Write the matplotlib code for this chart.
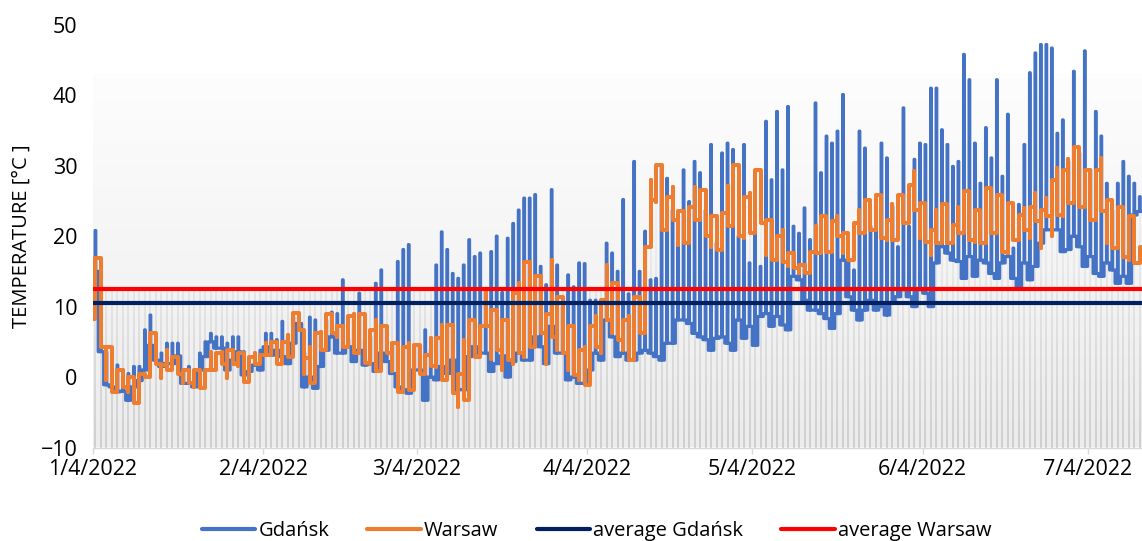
import numpy as np
import matplotlib
matplotlib.use("Agg")
import matplotlib.pyplot as plt
import matplotlib.dates as mdates
from matplotlib.collections import LineCollection
from matplotlib.lines import Line2D
from matplotlib.ticker import FuncFormatter, FixedLocator

# ---------------- data ----------------
start_date = "2022-01-04"
month_ticks = ["2022-01-04", "2022-02-04", "2022-03-04", "2022-04-04",
               "2022-05-04", "2022-06-04", "2022-07-04"]
y_ticks = [-10, 0, 10, 20, 30, 40, 50]
legend_labels = ["Gdańsk", "Warsaw", "average Gdańsk", "average Warsaw"]

gdansk_hi = [
    20.8, 14.3, 3.6, 1.7, 1.7, 1.0, 0.5, 1.5, 1.5, 6.7,
    8.8, 4.5, 3.4, 4.8, 4.8, 4.8, 1.0, 1.5, 1.0, 3.4,
    5.0, 6.2, 5.7, 5.7, 4.8, 5.7, 5.7, 3.6, 1.7, 3.1,
    3.8, 6.2, 6.2, 5.3, 7.9, 5.7, 8.5, 8.5, 3.4, 8.5,
    8.1, 5.7, 8.1, 9.2, 9.0, 13.8, 5.3, 8.1, 11.9, 5.3,
    5.7, 13.3, 15.2, 7.2, 4.8, 16.4, 18.1, 18.8, 4.3, 4.3,
    6.7, 3.8, 15.9, 20.6, 18.1, 14.7, 14.0, 15.9, 19.5, 17.1,
    17.6, 12.4, 17.8, 20.0, 12.0, 19.7, 21.8, 23.7, 25.4, 25.4,
    25.9, 15.7, 13.1, 26.6, 15.9, 10.0, 14.5, 12.8, 16.2, 16.1,
    10.9, 10.9, 10.0, 19.0, 17.6, 15.0, 25.2, 11.8, 30.6, 15.0,
    20.7, 13.8, 14.0, 29.9, 28.2, 23.7, 22.6, 29.4, 24.9, 30.6,
    29.0, 23.7, 33.0, 19.0, 31.8, 33.2, 32.3, 20.0, 33.0, 16.2,
    20.4, 15.7, 36.3, 28.0, 37.7, 29.4, 38.4, 21.4, 20.4, 24.0,
    19.5, 38.9, 29.0, 34.2, 33.2, 34.9, 40.1, 16.6, 15.2, 34.9,
    32.5, 21.4, 21.1, 33.2, 31.1, 24.2, 18.5, 38.2, 21.4, 30.9,
    33.2, 33.0, 41.0, 41.0, 35.1, 33.0, 29.9, 30.6, 45.8, 42.2,
    33.2, 27.5, 35.4, 31.1, 42.2, 28.5, 37.3, 18.3, 24.5, 33.0,
    43.2, 46.0, 47.2, 47.2, 46.7, 34.6, 36.5, 30.6, 43.4, 31.8,
    46.3, 29.4, 37.7, 34.2, 27.5, 23.7, 27.5, 30.6, 28.5, 27.5,
    25.6]

gdansk_lo = [
    15.0, 3.6, -1.1, -1.4, -2.1, -2.0, -3.3, -1.4, -0.5, 1.0,
    4.5, 2.4, 1.5, 1.9, 1.9, 3.0, -0.9, -0.9, -1.4, 1.0,
    2.9, 5.0, 4.1, 4.1, 1.0, 2.4, 3.6, 0.3, 0.8, 1.7,
    1.0, 4.3, 3.1, 3.8, 2.9, 1.9, 4.8, 7.6, -1.4, 0.0,
    -1.6, 1.5, 3.8, 5.7, 3.4, 3.4, 4.3, 2.2, 3.8, 1.7,
    1.9, 0.8, 3.4, 2.2, 0.5, -1.4, -1.8, -2.3, 1.0, 1.0,
    -3.3, 0.0, -0.4, 1.5, 0.5, 2.4, -1.8, -1.8, 2.9, 4.3,
    3.4, 3.4, 0.8, 1.9, 3.0, 0.0, 2.2, 3.4, 2.4, 2.4,
    5.7, 4.3, 1.9, 7.2, 3.4, 3.4, -0.4, 0.0, -0.9, -0.9,
    1.0, 3.4, 2.4, 8.1, 5.7, 2.9, 3.4, 2.4, 2.4, 3.4,
    3.8, 3.4, 2.9, 2.4, 4.8, 4.8, 8.1, 8.1, 7.6, 6.2,
    5.7, 5.3, 3.8, 5.5, 5.7, 4.8, 3.8, 8.1, 5.5, 7.2,
    4.5, 8.6, 9.0, 7.2, 8.6, 7.4, 6.7, 14.3, 13.8, 10.9,
    9.5, 9.5, 9.0, 8.3, 6.9, 9.0, 16.6, 11.4, 9.5, 8.1,
    9.5, 10.9, 9.5, 10.0, 8.8, 10.5, 11.4, 12.4, 11.4, 10.0,
    12.4, 11.9, 10.0, 16.2, 18.5, 17.6, 16.6, 16.4, 14.0, 17.1,
    14.3, 16.6, 16.2, 14.7, 14.0, 16.2, 17.1, 14.0, 12.8, 16.2,
    13.8, 15.7, 19.0, 20.9, 20.9, 20.9, 17.8, 18.1, 20.0, 18.5,
    15.7, 17.1, 14.7, 14.3, 16.2, 15.2, 13.3, 14.3, 13.3, 23.0,
    23.5]

warsaw_hi = [
    16.9, 8.3, 4.3, -0.4, 1.0, 0.5, 0.0, -1.4, 0.5, 0.5,
    6.2, 3.6, 1.7, 3.8, 2.9, 2.9, 1.0, 1.0, 1.0, 0.8,
    1.0, 3.6, 3.4, 3.6, 3.8, 2.9, 3.4, 1.0, 2.9, 3.4,
    3.1, 4.8, 5.0, 4.8, 5.0, 6.0, 9.1, 8.1, 2.7, 4.3,
    6.2, 6.4, 9.0, 9.0, 7.2, 7.2, 8.6, 9.0, 9.0, 6.7,
    6.7, 8.1, 7.2, 7.2, 4.8, 3.8, 4.3, 4.8, 4.5, 4.5,
    3.1, 5.5, 5.5, 7.4, 7.4, 1.2, 0.5, 5.3, 8.1, 8.1,
    7.2, 12.4, 9.5, 5.3, 8.1, 6.2, 11.9, 13.3, 16.4, 10.0,
    14.3, 10.0, 9.0, 16.6, 11.4, 9.7, 7.2, 4.3, 3.8, 4.3,
    7.2, 8.6, 10.9, 15.9, 13.3, 10.0, 8.1, 8.6, 11.4, 10.0,
    18.5, 28.0, 30.1, 27.0, 25.6, 27.0, 23.5, 23.3, 24.2, 27.0,
    26.6, 23.7, 22.8, 22.8, 23.3, 27.1, 30.1, 25.6, 25.6, 26.1,
    29.4, 27.8, 22.3, 20.9, 20.0, 20.9, 17.6, 16.2, 15.9, 15.9,
    17.8, 21.4, 22.8, 21.4, 22.1, 22.8, 20.4, 19.7, 21.8, 23.7,
    25.2, 25.2, 25.9, 21.4, 22.3, 24.5, 25.9, 25.2, 27.3, 29.2,
    24.7, 24.7, 20.9, 23.7, 24.5, 23.0, 21.6, 24.2, 26.4, 26.4,
    23.7, 23.5, 26.8, 23.5, 25.9, 24.2, 24.7, 24.0, 23.0, 24.0,
    24.2, 26.1, 23.7, 25.4, 28.0, 29.7, 29.4, 30.9, 32.7, 29.9,
    29.4, 28.0, 29.4, 31.1, 25.2, 23.7, 24.2, 22.8, 22.8, 17.8,
    18.5]

warsaw_lo = [
    8.3, 4.3, -0.4, -2.1, -2.1, -1.4, -2.1, -3.7, -1.4, 0.0,
    3.6, 1.9, -0.2, 1.0, 1.0, 0.5, -0.9, -0.9, -1.4, -1.6,
    -1.6, 1.0, 2.2, 1.9, -0.2, 1.9, 1.5, -0.7, 1.0, 1.9,
    2.2, 3.1, 3.6, 1.9, 4.3, 2.9, 7.2, 6.7, 0.5, -0.9,
    1.0, 3.8, 5.7, 6.2, 5.7, 4.3, 4.8, 3.4, 3.4, 2.0,
    1.9, 0.8, 3.4, 3.4, 0.8, -2.1, -0.9, -1.8, 0.5, 0.5,
    0.8, 1.5, 1.4, -0.4, -0.4, -2.3, -4.2, -3.3, -0.9, 2.9,
    4.3, 7.2, 2.5, 3.8, 1.0, 2.4, 1.8, 3.4, 2.9, 4.3,
    6.2, 6.2, 1.9, 5.7, 3.8, 3.4, 1.0, 0.3, -0.4, -1.1,
    0.5, 4.3, 3.4, 8.1, 6.2, 5.3, 3.8, 2.4, 3.4, 6.2,
    10.0, 25.2, 24.9, 20.9, 21.1, 22.3, 18.8, 19.0, 21.4, 22.3,
    22.8, 20.0, 18.5, 18.1, 19.0, 21.4, 24.9, 20.0, 19.7, 20.4,
    22.8, 21.8, 17.3, 16.6, 16.6, 16.4, 15.7, 15.5, 14.7, 14.7,
    14.7, 17.6, 18.5, 17.8, 18.1, 20.0, 17.6, 16.6, 16.6, 20.4,
    20.4, 20.9, 21.4, 19.7, 19.5, 19.5, 20.4, 21.8, 22.1, 23.7,
    19.7, 19.2, 17.3, 19.0, 19.5, 19.0, 19.0, 20.4, 20.4, 19.5,
    19.2, 19.0, 20.9, 20.4, 20.4, 17.8, 17.6, 19.5, 20.9, 20.9,
    19.7, 22.1, 18.3, 22.8, 20.0, 23.0, 22.8, 24.7, 24.7, 24.2,
    24.5, 22.3, 23.0, 23.5, 19.0, 18.3, 19.0, 17.1, 16.6, 16.2,
    16.2]

avg_gdansk = 10.55
avg_warsaw = 12.45

# ---------------- style ----------------
BLUE = "#4472C4"
ORANGE = "#ED7D31"
NAVY = "#002060"
RED = "#FF0000"
FONT = ["Open Sans", "DejaVu Sans"]
plt.rcParams["font.family"] = FONT

W, H = 1142, 541
fig = plt.figure(figsize=(W / 100, H / 100), dpi=100)
ax_left, ax_right, ax_top, ax_bot = 92.7, 1142.0, 24.8, 447.5
ax = fig.add_axes([ax_left / W, (H - ax_bot) / H,
                   (ax_right - ax_left) / W, (ax_bot - ax_top) / H])

t0 = mdates.date2num(np.datetime64(start_date))
ndays = len(gdansk_hi)
x_max = t0 + 190.9
ax.set_xlim(t0, x_max)
ax.set_ylim(-10, 50)

# background gradient (white at top, light grey at bottom)
yy = np.linspace(50, -10, 400)
g = np.where(yy >= 43, 1.0, 0.993 - (43 - yy) / 53 * (0.993 - 0.925))
img = np.stack([g, g, g], axis=-1).reshape(400, 1, 3)
ax.imshow(img, extent=(t0, x_max, -10, 50), aspect="auto", zorder=0,
          interpolation="bilinear")

# drop lines (from the highest value of each day down to the axis)
segs, cols = [], []
for d in range(ndays):
    top = max(gdansk_hi[d], warsaw_hi[d], avg_warsaw)
    xd = t0 + d + 0.5
    for y0 in np.arange(-10, top, 1.0):
        y1 = min(y0 + 1.0, top)
        yc = (y0 + y1) / 2
        f = np.clip((yc + 10) / 45, 0, 1)
        c = 0.79 + f * (0.985 - 0.79)
        segs.append([(xd, y0), (xd, y1)])
        cols.append((c, c, c))
lc = LineCollection(segs, colors=cols, linewidths=1.2, zorder=1,
                    capstyle="butt")
ax.add_collection(lc)


def build_spikes(lo, hi, width):
    """Low level with a narrow peak in the middle of each day."""
    xs, ys = [], []
    for d, (l, h) in enumerate(zip(lo, hi)):
        xs += [d, d + 0.5 - width / 2, d + 0.5 + width / 2]
        ys += [l, h, l]
    xs.append(len(lo))
    ys.append(lo[-1])
    return t0 + np.array(xs), np.array(ys)


def build_square(lo, hi):
    """One vertical stroke per day, alternating direction, flat between."""
    xs, ys = [], []
    prev = None
    for d, (l, h) in enumerate(zip(lo, hi)):
        s, e = (l, h) if d % 2 == 0 else (h, l)
        xc = d + 0.5
        if prev is None:
            xs.append(0.0)
            ys.append(s)
        else:
            xs.append(xc)
            ys.append(prev)
        xs += [xc, xc]
        ys += [s, e]
        prev = e
    xs.append(len(lo))
    ys.append(prev)
    return t0 + np.array(xs), np.array(ys)


gx, gy = build_spikes(gdansk_lo, gdansk_hi, 0.12)
wx, wy = build_square(warsaw_lo, warsaw_hi)
ax.plot(gx, gy, drawstyle="steps-post", color=BLUE, lw=2.3, zorder=3,
        solid_joinstyle="round", solid_capstyle="round")
ax.plot(wx, wy, color=ORANGE, lw=2.9, zorder=4,
        solid_joinstyle="round", solid_capstyle="round")
ax.axhline(avg_gdansk, color=NAVY, lw=3.0, zorder=5)
ax.axhline(avg_warsaw, color=RED, lw=3.0, zorder=5)

# axes
for s in ["top", "right", "left"]:
    ax.spines[s].set_visible(False)
ax.spines["bottom"].set_color("#d9d9d9")
ax.spines["bottom"].set_linewidth(1.0)
ax.spines["bottom"].set_zorder(6)

tick_pos = [mdates.date2num(np.datetime64(m)) for m in month_ticks]
ax.xaxis.set_major_locator(FixedLocator(tick_pos))


def fmt(x, pos):
    d = mdates.num2date(x)
    return f"{d.month}/{d.day}/{d.year}"


ax.xaxis.set_major_formatter(FuncFormatter(fmt))
ax.tick_params(axis="x", length=4.5, width=1.0, color="#d9d9d9", pad=4,
               labelsize=15.5, labelcolor="#000000")
ax.set_yticks(y_ticks)
ax.tick_params(axis="y", length=0, pad=11, labelsize=15.5,
               labelcolor="#000000")

ax.set_ylabel("TEMPERATURE [°C ]", fontsize=14.5, color="#000000")
ax.yaxis.set_label_coords(-0.058, 0.5)

handles = [Line2D([], [], color=BLUE, lw=3.0, solid_capstyle="round"),
           Line2D([], [], color=ORANGE, lw=3.0, solid_capstyle="round"),
           Line2D([], [], color=NAVY, lw=3.0, solid_capstyle="round"),
           Line2D([], [], color=RED, lw=3.0, solid_capstyle="round")]
fig.legend(handles, legend_labels, loc="center", ncol=4, frameon=False,
           bbox_to_anchor=(596.5 / W, 10 / H), fontsize=14.5,
           handlelength=2.65, handletextpad=0.15, columnspacing=1.9)

fig.savefig("out.png", dpi=100)
